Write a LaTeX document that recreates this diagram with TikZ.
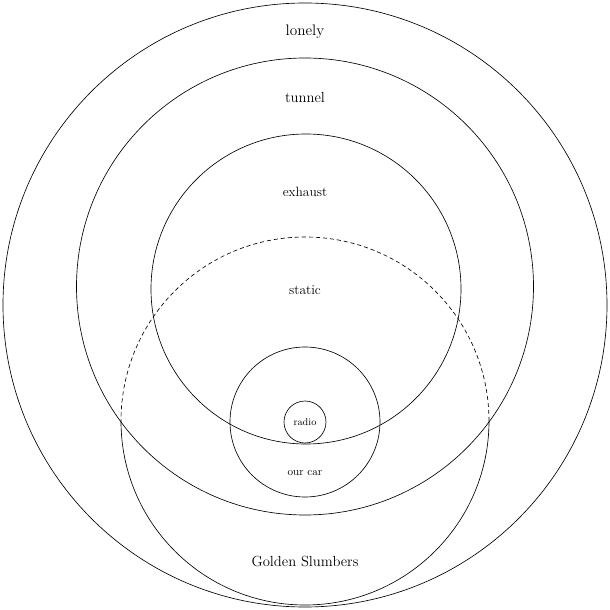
\documentclass[tikz,border=0pt]{standalone}
\begin{document}
\begin{tikzpicture}[scale=0.03, ring/.style={black, line width=0.55pt},
        every node/.style={inner sep=0pt}]
        \useasboundingbox (-305,-305) rectangle (305,305);
        \draw [ring] (0,0) circle (302);
        \draw (0,273) node (lonely) {\fontsize{13}{15}\selectfont lonely};
        \draw [ring] (0,18.5) circle (228.5);
        \draw (0,208) node (tunnel) {\fontsize{12.5}{15}\selectfont tunnel};
        \draw [ring] (1,16) circle (155);
        \draw (0,113) node (exhaust) {\fontsize{11.5}{13}\selectfont exhaust};
        \draw (0,15) node (static) {\fontsize{11.5}{13}\selectfont static};
        % golden slumbers: dashed inside the tunnel, solid outside
        \begin{scope}
        \clip (0,18.5) circle (228.5);
        \draw [ring, dash pattern=on 3.5pt off 2.5pt] (0,-116) circle (184);
        \end{scope}
        \begin{scope}[even odd rule]
        \clip (-305,-305) rectangle (305,305) (0,18.5) circle (228.5);
        \draw [ring] (0,-116) circle (184);
        \end{scope}
        \draw (0,-256) node (slumbers) {\fontsize{12.5}{15}\selectfont Golden Slumbers};
        \draw [ring] (0,-117) circle (75);
        \draw (0,-168) node (ourcar) {\fontsize{9.5}{11}\selectfont our car};
        \draw [ring] (0,-117) circle (21);
        \draw (0,-117) node (radio) {\fontsize{8.5}{10}\selectfont radio};
\end{tikzpicture}
\end{document}
